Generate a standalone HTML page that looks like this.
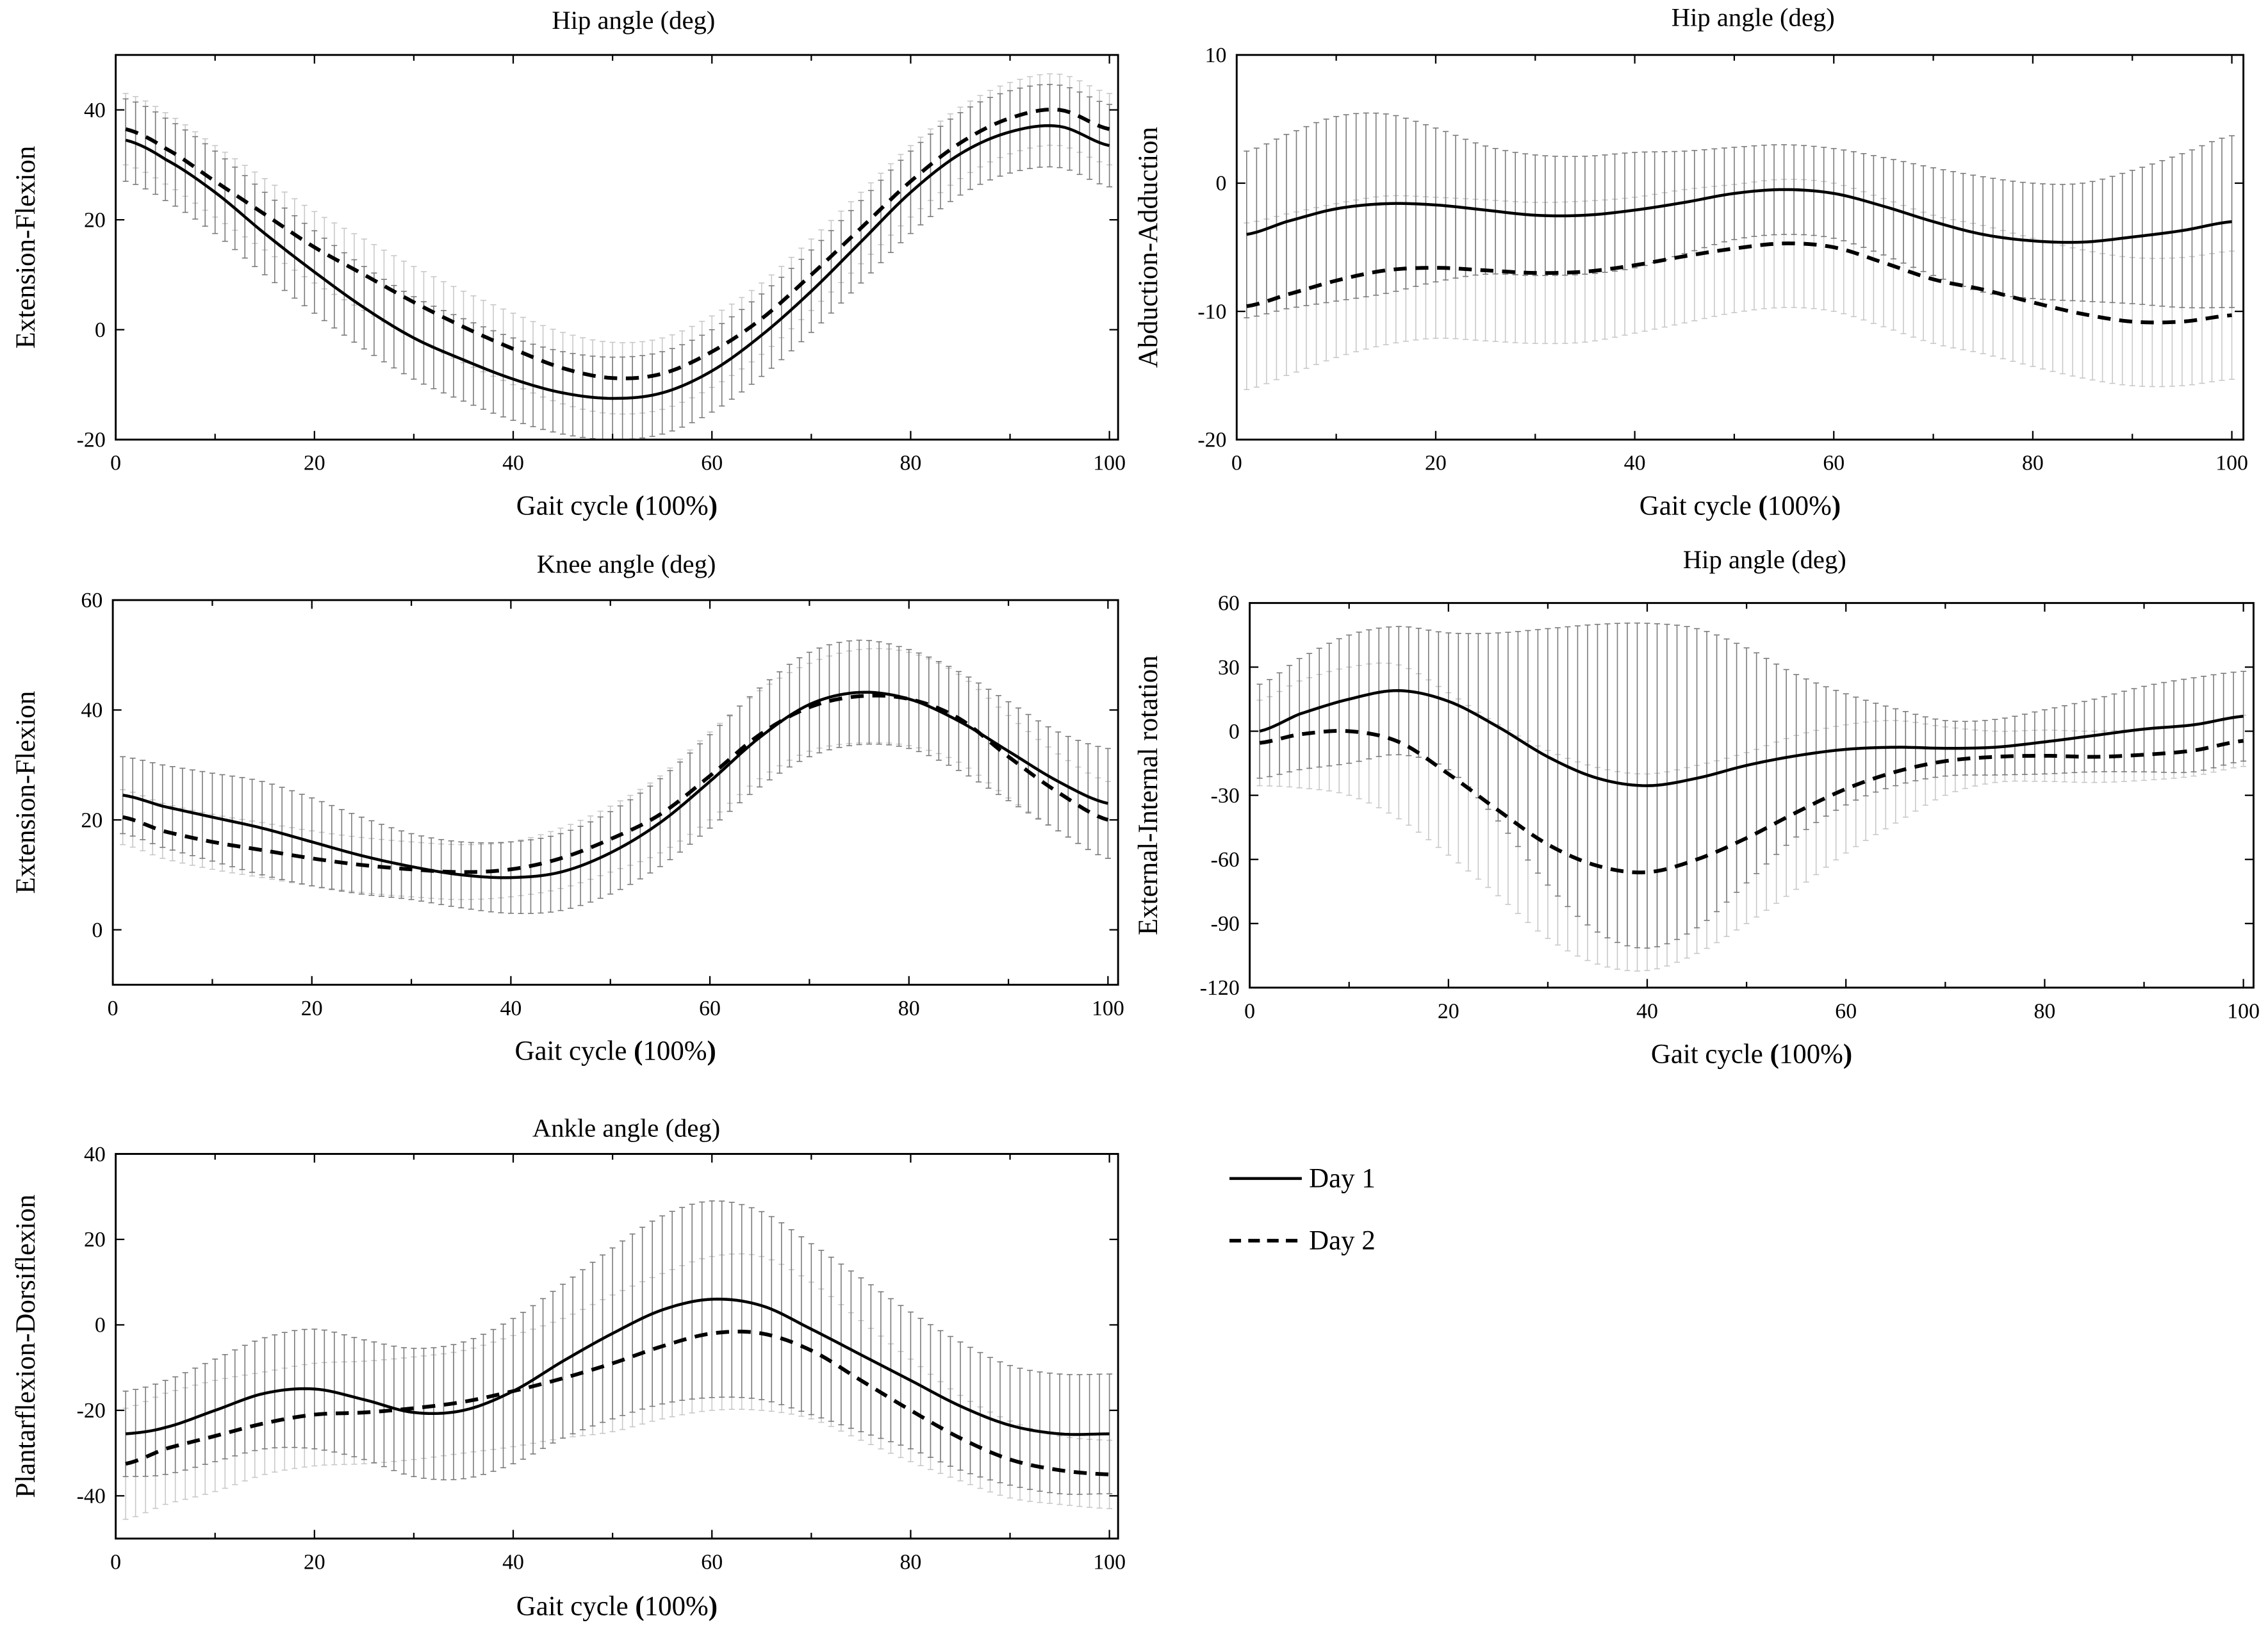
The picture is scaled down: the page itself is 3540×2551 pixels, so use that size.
<!DOCTYPE html>
<html><head><meta charset="utf-8"><style>
html,body{margin:0;padding:0;background:#fff}
svg{display:block}
text{font-family:"Liberation Serif",serif;fill:#000}
</style></head><body>
<svg id="fig" width="3540" height="2551" viewBox="0 0 1568 1130" preserveAspectRatio="none" xmlns="http://www.w3.org/2000/svg">
<g id="legend">
<line x1="850" y1="815" x2="900" y2="815" stroke="#000" stroke-width="2"/>
<text x="905" y="821" font-size="19">Day 1</text>
<line x1="850" y1="858" x2="900" y2="858" stroke="#000" stroke-width="2.5" stroke-dasharray="8,5"/>
<text x="905" y="864" font-size="19">Day 2</text>
</g>
</svg>
<script>
const xs = [1,5,10,15,20,25,30,35,40,45,50,55,60,65,70,75,80,85,90,95,100];
const xTicks = [0,20,40,60,80,100];
// Panel 1 hip flexion
const p1Day1 = [34.5,31,25,17.5,10.5,4,-1.5,-5.5,-9,-11.5,-12.5,-11.5,-7.5,-1,7,16,25,32,36,37,33.5];
const p1Day2 = [36.5,33,27,21,15,10,5,0.5,-3.5,-7,-8.8,-8,-4,2,10,18.5,27,34,38.5,40,36.5];
const p1Sd1 = [7.5,7.5,7.5,7.5,7.5,7.5,7.5,7.5,7.5,7.5,7.5,7.5,7.5,7.5,7.5,7.5,7.5,7.5,7.5,7.5,7.5];
const p1Sd2 = [6.5,6.5,6.5,6.5,6.5,6.5,6.5,6.5,6.5,6.5,6.5,6.5,6.5,6.5,6.5,6.5,6.5,6.5,6.5,6.5,6.5];
const p1Ticks = [-20,0,20,40];
// Panel 2 hip abduction
const p2Day1 = [-4,-3,-2,-1.6,-1.7,-2.1,-2.5,-2.5,-2.1,-1.5,-0.8,-0.5,-0.8,-1.8,-3,-4,-4.5,-4.6,-4.2,-3.7,-3];
const p2Day2 = [-9.6,-8.7,-7.6,-6.8,-6.6,-6.8,-7,-6.9,-6.4,-5.7,-5.1,-4.7,-5,-6.2,-7.5,-8.3,-9.3,-10.2,-10.8,-10.8,-10.3];
const p2Sd1 = [6.5,6.8,7.2,7,6,5,4.7,4.6,4.5,4,3.6,3.5,3.5,3.8,4.2,4.5,4.5,4.6,5.2,6,6.7];
const p2Sd2 = [6.5,6.3,6,5.8,5.5,5.5,5.5,5.5,5.3,5.2,5,5,5,5,5,5,5,5,5,5,5];
const p2Ticks = [-20,-10,0,10];
// Panel 3 knee
const p3Day1 = [24.5,22.5,20.5,18.5,16,13.5,11.5,10,9.5,10.5,14,19.5,27,35,41,43.2,42,38,32.5,27,23];
const p3Day2 = [20.5,18,16,14.5,13,11.8,11,10.5,11,13,16.5,21,28,35.5,40.5,42.5,42,38.5,31.5,25,20];
const p3Sd1 = [7,7.5,8,8.5,8,7,6,6,6.5,7,7.5,8,8.5,9,9.5,9.5,9,9,9,9,10];
const p3Sd2 = [5,5,5,5,5,5,5,5,5,5.5,6,7,8,8,8,8.5,8.5,8,7.5,7,7];
const p3Ticks = [0,20,40,60];
// Panel 4 hip rotation
const p4Day1 = [0,8,15,19,14,2,-12,-22,-25.5,-22,-16,-11.5,-8.5,-7.5,-8,-7.5,-5,-2,1,3,7];
const p4Day2 = [-5.5,-1.5,0,-5,-20,-37,-53,-63,-66,-60,-50,-38,-27,-19,-14,-12,-11.5,-12,-11,-9,-4.5];
const p4Sd1 = [22,26,30,30,32,44,60,72,76,70,55,38,26,18,13,13,15,17,20,22,21];
const p4Sd2 = [20,25,30,36,38,40,44,46,46,44,40,36,30,24,16,12,12,12,12,12,12];
const p4Ticks = [-120,-90,-60,-30,0,30,60];
// Panel 5 ankle
const p5Day1 = [-25.5,-24,-20,-16,-15,-17.5,-20.5,-20,-15.5,-8.5,-2,3.5,6,4.5,-1,-7,-13,-19,-23.5,-25.5,-25.5];
const p5Day2 = [-32.5,-29,-26,-23,-21,-20.5,-19.5,-18,-15.5,-12.5,-9,-5,-2,-2,-6,-13,-20,-26.5,-31.5,-34,-35];
const p5Sd1 = [10,11,12,13,14,14,15,16,17,18,20,22,23,22,20,18,16,15,14,14,14];
const p5Sd2 = [13,13,13,12,12,12,12,12,13,14,16,17,18,18,16,14,12,10,9,8,8];
const p5Ticks = [-40,-20,0,20,40];

const NS = "http://www.w3.org/2000/svg";
const svg = document.getElementById('fig');
function mk(tag, attrs, parent){const e=document.createElementNS(NS,tag);for(const k in attrs)e.setAttribute(k,attrs[k]);(parent||svg).appendChild(e);return e;}
function spline(vals, x){
  let i=0; while(i<xs.length-2 && x>xs[i+1]) i++;
  const x0=xs[i],x1=xs[i+1]; const t=Math.max(0,Math.min(1,(x-x0)/(x1-x0)));
  const p0=vals[Math.max(i-1,0)],p1=vals[i],p2=vals[i+1],p3=vals[Math.min(i+2,vals.length-1)];
  const t2=t*t,t3=t2*t;
  return 0.5*((2*p1)+(-p0+p2)*t+(2*p0-5*p1+4*p2-p3)*t2+(-p0+3*p1-3*p2+p3)*t3);
}
const panels = [
 {name:'hip-flexion',L:80,R:773,T:38,B:304,x100:767,ymin:-20,ymax:50,ticks:p1Ticks,d1:p1Day1,d2:p1Day2,s1:p1Sd1,s2:p1Sd2,title:'Hip angle (deg)',tx:438,ty:20,ylab:'Extension-Flexion',ylx:24,xly:356},
 {name:'hip-abduction',L:855,R:1551,T:38,B:304,x100:1543,ymin:-20,ymax:10,ticks:p2Ticks,d1:p2Day1,d2:p2Day2,s1:p2Sd1,s2:p2Sd2,title:'Hip angle (deg)',tx:1212,ty:18,ylab:'Abduction-Adduction',ylx:800,xly:356},
 {name:'knee-flexion',L:78,R:773,T:415,B:681,x100:766,ymin:-10,ymax:60,ticks:p3Ticks,d1:p3Day1,d2:p3Day2,s1:p3Sd1,s2:p3Sd2,title:'Knee angle (deg)',tx:433,ty:396,ylab:'Extension-Flexion',ylx:24,xly:733},
 {name:'hip-rotation',L:864,R:1558,T:417,B:683,x100:1551,ymin:-120,ymax:60,ticks:p4Ticks,d1:p4Day1,d2:p4Day2,s1:p4Sd1,s2:p4Sd2,title:'Hip angle (deg)',tx:1220,ty:393,ylab:'External-Internal rotation',ylx:800,xly:735},
 {name:'ankle-flexion',L:80,R:773,T:798,B:1064,x100:767,ymin:-50,ymax:40,ticks:p5Ticks,d1:p5Day1,d2:p5Day2,s1:p5Sd1,s2:p5Sd2,title:'Ankle angle (deg)',tx:433,ty:786,ylab:'Plantarflexion-Dorsiflexion',ylx:24,xly:1117}
];
panels.forEach(p=>{
  const g=mk('g',{});
  
  
  const X=v=>p.L+(p.x100-p.L)*v/100;
  const Y=v=>p.B-(v-p.ymin)/(p.ymax-p.ymin)*(p.B-p.T);
  [[p.d2,p.s2,'#c8c8c8','day2'],[p.d1,p.s1,'#7a7a7a','day1']].forEach(([d,s,c,nm])=>{
    const eg=mk('g',{stroke:c,'stroke-width':0.7,fill:'none'},g);
    
    
    for(let x=1;x<=100;x++){
      const m=spline(d,x), sd=spline(s,x), px=X(x);
      mk('line',{x1:px,x2:px,y1:Math.max(p.T,Y(m+sd)),y2:Math.min(p.B,Y(m-sd))},eg);
      if(Y(m+sd)>=p.T) mk('line',{x1:px-2,x2:px+2,y1:Y(m+sd),y2:Y(m+sd)},eg);
      if(Y(m-sd)<=p.B) mk('line',{x1:px-2,x2:px+2,y1:Y(m-sd),y2:Y(m-sd)},eg);
    }
  });
  [[p.d1,'day1','2',null],[p.d2,'day2','2.6','9,6']].forEach(([d,nm,w,da])=>{
    let pts=[];for(let x=1;x<=100;x+=0.5)pts.push(X(x).toFixed(2)+','+Y(spline(d,x)).toFixed(2));
    const a={points:pts.join(' '),fill:'none',stroke:'#000','stroke-width':w};
    if(da)a['stroke-dasharray']=da;
    const pl=mk('polyline',a,g);
    
    
  });
  const fr=mk('rect',{x:p.L,y:p.T,width:p.R-p.L,height:p.B-p.T,fill:'none',stroke:'#000','stroke-width':1.3},g);
  
  
  for(let v=0;v<=100;v+=10){
    const px=X(v), len=v%20===0?6:4;
    mk('line',{x1:px,x2:px,y1:p.B,y2:p.B-len,stroke:'#000','stroke-width':1},g);
    mk('line',{x1:px,x2:px,y1:p.T,y2:p.T+len,stroke:'#000','stroke-width':1},g);
  }
  xTicks.forEach(v=>{
    const t=mk('text',{x:X(v),y:p.B+21,'font-size':15,'text-anchor':'middle'},g);
    t.textContent=v;
    
    
  });
  p.ticks.forEach(v=>{
    const py=Y(v);
    mk('line',{x1:p.L,x2:p.L+6,y1:py,y2:py,stroke:'#000','stroke-width':1},g);
    mk('line',{x1:p.R,x2:p.R-6,y1:py,y2:py,stroke:'#000','stroke-width':1},g);
    const t=mk('text',{x:p.L-7,y:py+5,'font-size':15,'text-anchor':'end'},g);
    t.textContent=v;
    
    
  });
  const tt=mk('text',{x:p.tx,y:p.ty,'font-size':18,'text-anchor':'middle'},g);
  tt.textContent=p.title;
  
  
  const xl=mk('text',{x:(p.L+p.R)/2,y:p.xly,'font-size':19,'text-anchor':'middle'},g);
  xl.innerHTML='Gait cycle <tspan font-weight="bold">(</tspan>100%<tspan font-weight="bold">)</tspan>';
  
  
  const cy=(p.T+p.B)/2;
  const yl=mk('text',{x:p.ylx,y:cy,'font-size':19,'text-anchor':'middle',transform:'rotate(-90 '+p.ylx+' '+cy+')'},g);
  yl.textContent=p.ylab;
  
  
});
</script>
</body></html>
